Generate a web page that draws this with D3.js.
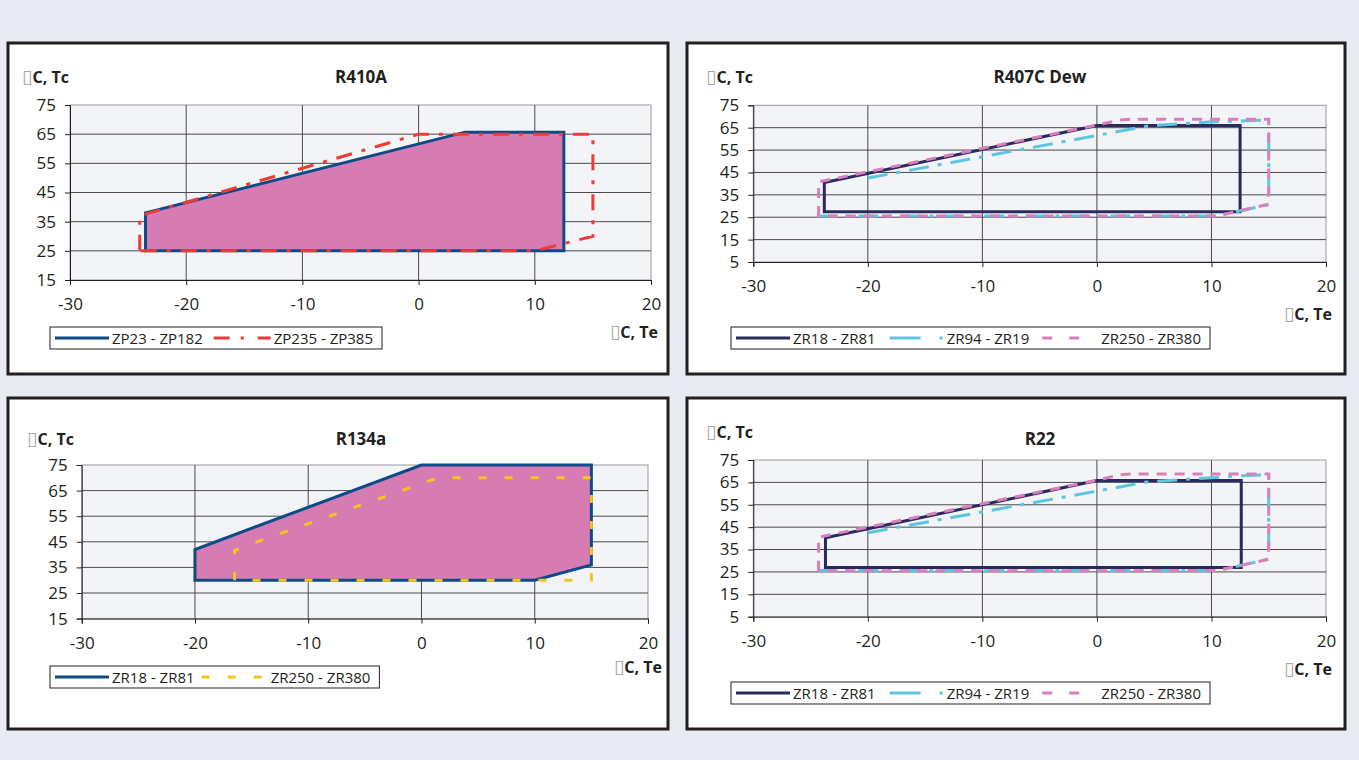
<!DOCTYPE html>
<html>
<head>
<meta charset="utf-8">
<script src="https://cdn.jsdelivr.net/npm/d3@7"></script>
<style>
  body { margin: 0; background: #e9ebf3; }
  text { font-family: "Open Sans", "Noto Sans", sans-serif; fill: #231f20; }
</style>
</head>
<body>
<script>
// Tick labels
const teTicks = [-30, -20, -10, 0, 10, 20];
const tcTicksHigh = [15, 25, 35, 45, 55, 65, 75];
const tcTicksLow = [5, 15, 25, 35, 45, 55, 65, 75];

// R410A envelopes, [Te, Tc]
const r410aZP23 = [[-23.5, 25], [-23.5, 38], [4, 65.7], [12.5, 65.7], [12.5, 25]];
const r410aZP235 = [[-24, 25], [-24, 37], [0, 65], [15, 65], [15, 30], [10, 25]];

// R407C Dew envelopes
const r407cZR18 = [[-23.8, 27.5], [-23.8, 40.5], [0, 66], [12.5, 66], [12.5, 27.5]];
const r407cZR94 = [[-20, 42.5], [4.5, 65.8], [10, 67.6], [15, 68.4], [15, 30.6], [10.5, 25.6], [-24.2, 25.6]];
const r407cZR250 = [[-24.3, 25.5], [-24.3, 40.8], [0, 66.2], [2, 68.4], [3, 68.8], [15, 68.8], [15, 30.8], [10.5, 25.6]];

// R134a envelopes
const r134aZR18 = [[-20, 30], [-20, 42], [0, 75], [15, 75], [15, 36], [10, 30]];
const r134aZR250 = [[-16.5, 30], [-16.5, 41.5], [-15.6, 43.3], [1, 69.3], [2.5, 70], [15, 70], [15, 30]];

// R22 envelopes
const r22ZR18 = [[-23.7, 27], [-23.7, 40.3], [0, 65.8], [12.6, 65.8], [12.6, 27]];
const r22ZR94 = [[-20, 42.5], [4.4, 65.2], [12.4, 67.9], [15, 68.5], [15, 30.7], [10.5, 25.6], [-24.3, 25.6]];
const r22ZR250 = [[-24.3, 25.5], [-24.3, 40.5], [0, 66], [2, 68.4], [3, 68.8], [15, 68.8], [15, 30.7], [10.5, 25.6]];

// line styles
const sNavy = { color: "#0d4a8a", dash: null, legendDash: null, len: 54, gap: 11 };
const sDark = { color: "#2b2a5e", dash: null, legendDash: null, len: 54, gap: 11 };
const sRed = { color: "#ef3b36", dash: "16,10,4,10", legendDash: "16,11,3,14", len: 57, gap: 11 };
const sCyan = { color: "#5cc6e1", dash: "20,9,4,9", legendDash: "31,19,3,60", len: 54, gap: 14 };
const sPink = { color: "#da7fba", dash: "10,8", legendDash: "10,17,10,60", legendOffset: -2, len: 58, gap: 11 };
const sYellow = { color: "#f6c51c", dash: "8,18", legendDash: "8,18", legendOffset: -2, len: 68, gap: 5 };

const svg = d3.select("body").append("svg")
  .attr("width", 1359).attr("height", 760);

svg.append("rect").attr("width", 1359).attr("height", 760).attr("fill", "#e9ebf3");

const panels = [
  {
    box: [8, 43, 660, 331], xr: [70, 651], yr: [280, 105], yd: [15, 75], yTicks: tcTicksHigh,
    title: "R410A", titlePos: [361, 83], tcPos: [22, 83], tePos: [658, 338], legendPos: [50, 327],
    fill: r410aZP23,
    series: [
      { name: "ZP23 - ZP182", data: r410aZP23, style: sNavy, closed: true },
      { name: "ZP235 - ZP385", data: r410aZP235, style: sRed, closed: true }
    ]
  },
  {
    box: [687, 43, 658, 331], xr: [753.3, 1326], yr: [262, 105.3], yd: [5, 75], yTicks: tcTicksLow,
    title: "R407C Dew", titlePos: [1040, 83], tcPos: [706, 83], tePos: [1332, 320], legendPos: [731, 327],
    fill: null,
    series: [
      { name: "ZR18 - ZR81", data: r407cZR18, style: sDark, closed: true },
      { name: "ZR94 - ZR19", data: r407cZR94, style: sCyan, closed: false },
      { name: "ZR250 - ZR380", data: r407cZR250, style: sPink, closed: true }
    ]
  },
  {
    box: [8, 398, 660, 331], xr: [81.7, 648], yr: [618.6, 465], yd: [15, 75], yTicks: tcTicksHigh,
    title: "R134a", titlePos: [361, 445], tcPos: [27, 445], tePos: [662, 673], legendPos: [50, 666],
    fill: r134aZR18,
    series: [
      { name: "ZR18 - ZR81", data: r134aZR18, style: sNavy, closed: true },
      { name: "ZR250 - ZR380", data: r134aZR250, style: sYellow, closed: true }
    ]
  },
  {
    box: [687, 398, 658, 331], xr: [753.3, 1326], yr: [616.7, 460], yd: [5, 75], yTicks: tcTicksLow,
    title: "R22", titlePos: [1040, 445], tcPos: [706, 438], tePos: [1332, 675], legendPos: [731, 682],
    fill: null,
    series: [
      { name: "ZR18 - ZR81", data: r22ZR18, style: sDark, closed: true },
      { name: "ZR94 - ZR19", data: r22ZR94, style: sCyan, closed: false },
      { name: "ZR250 - ZR380", data: r22ZR250, style: sPink, closed: true }
    ]
  }
];

// axis name with the missing-glyph box in front of "C"
function unitLabel(g, x, y, label, anchor) {
  const t = g.append("text").attr("x", x).attr("y", y)
    .attr("text-anchor", anchor)
    .style("font-size", "16px").style("font-weight", "bold");
  t.append("tspan").text("\u25AF").style("fill", "#a8a8a8").style("font-weight", "normal")
    .style("font-family", "DejaVu Sans").style("font-size", "19px");
  t.append("tspan").text(label);
}

panels.forEach(function (p) {
  const g = svg.append("g");

  // Panel frame
  g.append("rect")
    .attr("x", p.box[0]).attr("y", p.box[1])
    .attr("width", p.box[2]).attr("height", p.box[3])
    .attr("fill", "#fff").attr("stroke", "#231f20").attr("stroke-width", 3);

  const x = d3.scaleLinear().domain([-30, 20]).range(p.xr);
  const y = d3.scaleLinear().domain(p.yd).range(p.yr);

  // Plot area
  g.append("rect")
    .attr("x", p.xr[0]).attr("y", p.yr[1])
    .attr("width", p.xr[1] - p.xr[0]).attr("height", p.yr[0] - p.yr[1])
    .attr("fill", "#f2f4f8").attr("stroke", "#9a9a9a");

  // Grid lines
  g.selectAll(".gx").data(teTicks.slice(1, -1)).enter().append("line")
    .attr("x1", d => x(d)).attr("x2", d => x(d))
    .attr("y1", p.yr[1]).attr("y2", p.yr[0])
    .attr("stroke", "#4a4a4a").attr("stroke-width", 1);
  g.selectAll(".gy").data(p.yTicks.slice(1, -1)).enter().append("line")
    .attr("x1", p.xr[0]).attr("x2", p.xr[1])
    .attr("y1", d => y(d)).attr("y2", d => y(d))
    .attr("stroke", "#4a4a4a").attr("stroke-width", 1);

  const line = d3.line().x(d => x(d[0])).y(d => y(d[1]));

  // Magenta fill of the main envelope
  if (p.fill) {
    g.append("path").attr("d", line(p.fill) + "Z")
      .attr("fill", "#d77bb3").attr("stroke", "none");
  }

  // Envelope lines
  p.series.forEach(function (s) {
    g.append("path")
      .attr("d", line(s.data) + (s.closed ? "Z" : ""))
      .attr("fill", "none")
      .attr("stroke", s.style.color)
      .attr("stroke-width", 3)
      .attr("stroke-linejoin", "miter")
      .attr("stroke-dasharray", s.style.dash);
  });

  // Axes
  const fmt = d => String(d);
  const yAxis = d3.axisLeft(y).tickValues(p.yTicks).tickSize(5).tickPadding(9).tickFormat(fmt);
  const xAxis = d3.axisBottom(x).tickValues(teTicks).tickSize(5).tickPadding(13).tickFormat(fmt);
  const ya = g.append("g").attr("transform", `translate(${p.xr[0]},0)`).call(yAxis);
  const xa = g.append("g").attr("transform", `translate(0,${p.yr[0]})`).call(xAxis);
  [ya, xa].forEach(function (a) {
    a.select(".domain").attr("stroke", "#231f20");
    a.selectAll(".tick line").attr("stroke", "#231f20");
    a.selectAll(".tick text").style("font-size", "17px")
      .style("font-family", '"Open Sans", "Noto Sans", sans-serif').attr("fill", "#231f20");
  });

  // Title and axis names
  g.append("text").attr("x", p.titlePos[0]).attr("y", p.titlePos[1])
    .attr("text-anchor", "middle").style("font-size", "17px").style("font-weight", "bold")
    .text(p.title);
  unitLabel(g, p.tcPos[0], p.tcPos[1], "C, Tc", "start");
  unitLabel(g, p.tePos[0], p.tePos[1], "C, Te", "end");

  // Legend
  const lg = g.append("g");
  const box = lg.append("rect")
    .attr("x", p.legendPos[0]).attr("y", p.legendPos[1]).attr("height", 22)
    .attr("fill", "#fff").attr("stroke", "#231f20").attr("stroke-width", 1);
  let cx = p.legendPos[0] + 5;
  const ly = p.legendPos[1] + 11;
  p.series.forEach(function (s, i) {
    if (i > 0) cx += s.style.gap;
    lg.append("line")
      .attr("x1", cx).attr("x2", cx + s.style.len).attr("y1", ly).attr("y2", ly)
      .attr("stroke", s.style.color).attr("stroke-width", 3)
      .attr("stroke-dasharray", s.style.legendDash)
      .attr("stroke-dashoffset", s.style.legendOffset || 0);
    cx += s.style.len + 3;
    const t = lg.append("text").attr("x", cx).attr("y", ly + 5.5)
      .style("font-size", "15px").text(s.name);
    cx += t.node().getComputedTextLength();
  });
  box.attr("width", cx + 9 - p.legendPos[0]);
});
</script>
</body>
</html>
